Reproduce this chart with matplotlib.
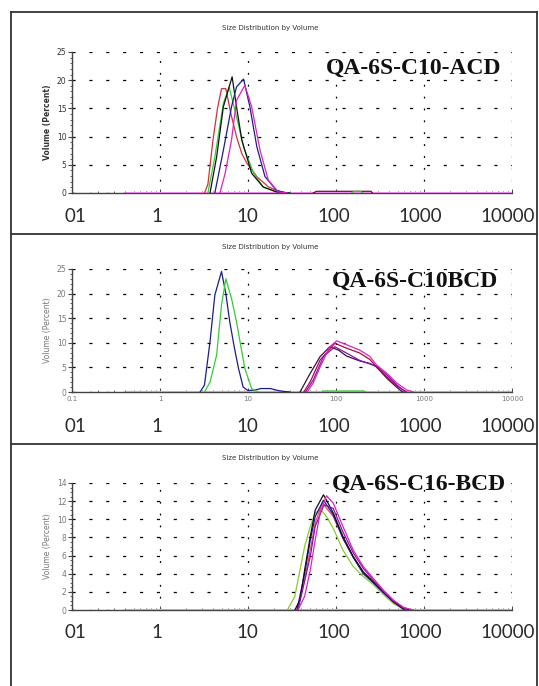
"""Three stacked DLS size-distribution panels (volume %), Zetasizer style."""

import matplotlib
matplotlib.use("Agg")
import matplotlib.pyplot as plt
import matplotlib.transforms as mtransforms
from matplotlib.lines import Line2D
from matplotlib.ticker import MultipleLocator, LogLocator, NullFormatter, FixedLocator, FixedFormatter

W, H = 539, 686

RED = "#d0303a"
GREEN = "#33cc33"
BLACK = "#111111"
BLUE = "#1c1c8c"
PURPLE = "#8a10b0"
MAGENTA = "#e020c0"
PINK_BASE = "#e888e8"

TITLE = "Size Distribution by Volume"
BIG_TICKS = [0.1, 1, 10, 100, 1000, 10000]
BIG_LABELS = ["01", "1", "10", "100", "1000", "10000"]
BIG_SHIFT_PX = [3, -3, -1, -2, -4, -4]
SMALL_LABELS = ["0.1", "1", "10", "100", "1000", "10000"]
BASELINE_X = [0.4, 10000]
BASELINE_Y = [0, 0]

# ---- panel 1: QA-6S-C10-ACD
p1_red_x = [3.2, 3.5, 4.0, 4.5, 5.0, 5.6, 6.4, 7.4, 8.5, 9.7, 12.6, 17, 23, 28]
p1_red_y = [0, 1.5, 9.4, 15, 18.5, 18.5, 14, 10, 7, 5.3, 2.9, 1.1, 0.2, 0]
p1_green_x = [3.5, 4.2, 5.25, 6.1, 7.4, 8.9, 11.6, 15, 20, 30]
p1_green_y = [0, 6.4, 15.9, 18.8, 13.5, 8.2, 3.5, 1.0, 0.3, 0]
p1_black_x = [3.7, 4.4, 5.25, 6.6, 7.4, 8.5, 11, 14.8, 21, 30]
p1_black_y = [0, 6.4, 15.3, 20.6, 15.3, 9.4, 3.5, 1.1, 0.2, 0]
p1_blue_x = [4.2, 5.25, 6.5, 7.4, 8.9, 10.5, 12.6, 15.6, 21, 27]
p1_blue_y = [0, 7.6, 15.3, 18.8, 20.2, 15.3, 8.2, 2.9, 0.5, 0]
p1_purple_x = [4.8, 5.5, 6.5, 7.4, 9.2, 11, 13.7, 17, 22, 28]
p1_purple_y = [0, 3.5, 9.4, 16.4, 19.1, 15.3, 7.6, 2.3, 0.2, 0]
p1_red_tail_x = [55, 60, 250, 260]
p1_red_tail_y = [0, 0.3, 0.3, 0]
p1_green_tail_x = [150, 160, 190, 200]
p1_green_tail_y = [0, 0.3, 0.3, 0]

# ---- panel 2: QA-6S-C10BCD
p2_blue_x = [2.85, 3.2, 3.7, 4.2, 5.0, 5.6, 6.2, 7.0, 7.8, 8.8, 10, 12, 14, 18, 22, 26, 30]
p2_blue_y = [0, 1.4, 10.2, 19.7, 24.5, 20, 14.3, 9, 4.8, 1.0, 0.3, 0.4, 0.7, 0.7, 0.3, 0.1, 0]
p2_green_x = [3.2, 3.7, 4.4, 5.0, 5.6, 6.5, 7.4, 8.5, 9.2, 11, 13]
p2_green_y = [0, 2, 7.5, 17.7, 23, 19, 14.3, 8.2, 4.8, 0.7, 0]
p2_green_tail_x = [70, 72, 210, 215]
p2_green_tail_y = [0, 0.2, 0.2, 0]
p2_black_x = [39, 51, 66, 85, 107, 132, 187, 243, 288, 378, 494, 570]
p2_black_y = [0, 3.8, 7.2, 9.2, 8.5, 7.3, 6.3, 5.8, 5.1, 2.8, 0.9, 0]
p2_red_x = [43, 51, 66, 97, 132, 187, 243, 288, 378, 494, 635]
p2_red_y = [0, 2.1, 6.5, 9.9, 8.9, 7.9, 6.6, 5.1, 3.1, 1.2, 0]
p2_magenta_x = [47, 55, 66, 85, 102, 132, 187, 243, 288, 378, 494, 635, 756]
p2_magenta_y = [0, 1.8, 5.1, 9.2, 10.4, 9.6, 8.5, 7.2, 5.5, 3.8, 1.8, 0.4, 0]
p2_purple_x = [45, 55, 72, 97, 132, 187, 243, 288, 378, 494, 610]
p2_purple_y = [0, 2.4, 7.2, 9.2, 7.9, 6.4, 5.7, 5.3, 3.5, 1.4, 0]

# ---- panel 3: QA-6S-C16-BCD
p3_green_x = [28, 34, 39, 44, 51, 58, 67, 78, 93, 120, 157, 204, 265, 345, 449, 582]
p3_green_y = [0, 1.5, 4.4, 7.0, 9.2, 10.7, 11.1, 10.3, 9.0, 6.6, 4.8, 3.7, 2.8, 1.7, 0.7, 0.1]
p3_black_x = [34, 39, 44, 51, 58, 72, 78, 93, 120, 157, 204, 265, 345, 449, 582, 680]
p3_black_y = [0, 1.1, 4.4, 8.1, 11.0, 12.7, 12.1, 10.7, 8.1, 5.9, 4.2, 3.1, 2.0, 0.9, 0.2, 0]
p3_blue_x = [36, 44, 51, 58, 72, 93, 120, 157, 204, 265, 345, 449, 600]
p3_blue_y = [0, 4.0, 7.7, 10.3, 12.1, 10.5, 7.9, 5.8, 4.0, 3.0, 1.9, 0.9, 0]
p3_magenta_x = [37, 44, 51, 58, 66, 78, 93, 120, 157, 204, 265, 345, 449, 582, 756]
p3_magenta_y = [0, 1.5, 4.4, 7.7, 10.7, 12.6, 11.8, 9.2, 6.6, 4.8, 3.5, 2.2, 1.1, 0.3, 0]
p3_purple_x = [37, 51, 58, 73, 93, 120, 157, 204, 265, 345, 449, 640]
p3_purple_y = [0, 5.9, 9.2, 11.6, 11.2, 8.6, 6.3, 4.6, 3.3, 2.1, 1.0, 0]
p3_red_x = [36, 44, 51, 58, 70, 93, 120, 157, 204, 265, 345, 449, 600]
p3_red_y = [0, 3.3, 6.6, 9.6, 11.8, 10.3, 7.9, 5.8, 4.2, 3.1, 2.0, 0.9, 0]

PANELS = [
    {
        "box": (72, 512, 52, 193), "ymax": 25, "ymajor": 5,
        "name": "QA-6S-C10-ACD", "name_xy": (414, 68), "title_y": 28,
        "big_y": 216, "small_labels": False, "tick_color": "#333333",
        "curves": [
            (p1_red_x, p1_red_y, RED), (p1_red_tail_x, p1_red_tail_y, "#7a1020"),
            (p1_green_tail_x, p1_green_tail_y, GREEN),
            (p1_green_x, p1_green_y, GREEN), (p1_black_x, p1_black_y, BLACK),
            (p1_blue_x, p1_blue_y, BLUE), (p1_purple_x, p1_purple_y, MAGENTA),
        ],
    },
    {
        "box": (72, 512, 269, 392), "ymax": 25, "ymajor": 5,
        "name": "QA-6S-C10BCD", "name_xy": (415, 281), "title_y": 247,
        "big_y": 427, "small_labels": True, "tick_color": "#777777",
        "curves": [
            (p2_green_tail_x, p2_green_tail_y, GREEN),
            (p2_blue_x, p2_blue_y, BLUE), (p2_green_x, p2_green_y, GREEN),
            (p2_black_x, p2_black_y, "#3a1040"), (p2_red_x, p2_red_y, "#a01040"),
            (p2_purple_x, p2_purple_y, PURPLE), (p2_magenta_x, p2_magenta_y, MAGENTA),
        ],
    },
    {
        "box": (72, 512, 483, 610), "ymax": 14, "ymajor": 2,
        "name": "QA-6S-C16-BCD", "name_xy": (419, 484), "title_y": 458,
        "big_y": 633, "small_labels": False, "tick_color": "#777777",
        "curves": [
            (p3_green_x, p3_green_y, "#8acc30"), (p3_red_x, p3_red_y, "#e05070"),
            (p3_blue_x, p3_blue_y, BLUE), (p3_black_x, p3_black_y, BLACK),
            (p3_purple_x, p3_purple_y, PURPLE), (p3_magenta_x, p3_magenta_y, MAGENTA),
        ],
    },
]


def fx(px):
    return px / W


def fy(py):
    return 1 - py / H


def draw_panel(fig, spec):
    x0, x1, ytop, ybot = spec["box"]
    ax = fig.add_axes([fx(x0), fy(ybot), (x1 - x0) / W, (ybot - ytop) / H])
    for side in ("top", "right"):
        ax.spines[side].set_visible(False)
    for side in ("left", "bottom"):
        ax.spines[side].set_color("#444444")
        ax.spines[side].set_linewidth(1.0)

    ax.set_xscale("log")
    ax.set_xlim(0.1, 10000)
    ax.set_ylim(0, spec["ymax"])

    ax.yaxis.set_major_locator(MultipleLocator(spec["ymajor"]))
    ax.yaxis.set_minor_locator(MultipleLocator(1 if spec["ymajor"] == 5 else 0.5))
    ax.tick_params(axis="y", which="major", direction="out", length=3, width=0.8,
                   labelsize=5.5, labelcolor=spec["tick_color"], pad=1, color="#444444")
    ax.tick_params(axis="y", which="minor", direction="out", length=1.5, width=0.6, color="#444444")

    ax.xaxis.set_major_locator(FixedLocator(BIG_TICKS))
    ax.xaxis.set_minor_locator(LogLocator(base=10, subs=range(2, 10)))
    ax.xaxis.set_minor_formatter(NullFormatter())
    if spec["small_labels"]:
        ax.xaxis.set_major_formatter(FixedFormatter(SMALL_LABELS))
    else:
        ax.xaxis.set_major_formatter(NullFormatter())
    ax.tick_params(axis="x", which="major", direction="in", length=3, width=0.7,
                   labelsize=5, labelcolor="#777777", pad=3, color="#444444")
    ax.tick_params(axis="x", which="minor", direction="in", length=1.5, width=0.6, color="#444444")

    ax.grid(True, which="major", axis="y", color="black", lw=0.9, linestyle=(0, (2.5, 11)))
    ax.grid(True, which="major", axis="x", color="black", lw=0.9, linestyle=(0, (1.5, 8)))

    ax.plot(BASELINE_X, BASELINE_Y, color=PINK_BASE, lw=2.2, solid_capstyle="butt", zorder=3)
    for xs, ys, c in spec["curves"]:
        ax.plot(xs, ys, color=c, lw=0.9, zorder=4)

    weight = "bold" if spec["tick_color"] == "#333333" else "normal"
    ax.set_ylabel("Volume (Percent)", fontsize=5.5, color=spec["tick_color"],
                  labelpad=0, weight=weight)
    ax.yaxis.set_label_coords(-(x0 - 52) / (x1 - x0), 0.5)

    base = mtransforms.blended_transform_factory(ax.transData, fig.transFigure)
    for v, lab, dx in zip(BIG_TICKS, BIG_LABELS, BIG_SHIFT_PX):
        trans = base + mtransforms.ScaledTranslation(dx / 100, 0, fig.dpi_scale_trans)
        ax.text(v, fy(spec["big_y"]), lab, transform=trans, ha="center", va="center",
                fontsize=13.5, family="Lato", color="#2a2a2a", clip_on=False)

    nx, ny = spec["name_xy"]
    fig.text(fx(nx), fy(ny), spec["name"], ha="center", va="center", fontsize=17,
             family="Liberation Serif", weight="bold", color="#111111", zorder=10)
    fig.text(fx(270), fy(spec["title_y"]), TITLE, ha="center", va="center",
             fontsize=5, color="#333333")
    return ax


fig = plt.figure(figsize=(W / 100, H / 100), dpi=100)
fig.patch.set_facecolor("white")

# frame lines around and between the panels
frame_kw = dict(color="#333333", lw=1.3, transform=fig.transFigure)
fig.add_artist(Line2D([fx(11), fx(537)], [fy(12), fy(12)], **frame_kw))
fig.add_artist(Line2D([fx(11), fx(11)], [fy(12), 0], **frame_kw))
fig.add_artist(Line2D([fx(537), fx(537)], [fy(12), 0], **frame_kw))
fig.add_artist(Line2D([fx(11), fx(537)], [fy(234), fy(234)], **frame_kw))
fig.add_artist(Line2D([fx(11), fx(537)], [fy(444), fy(444)], **frame_kw))

for spec in PANELS:
    draw_panel(fig, spec)

fig.savefig("out.png", dpi=100)
